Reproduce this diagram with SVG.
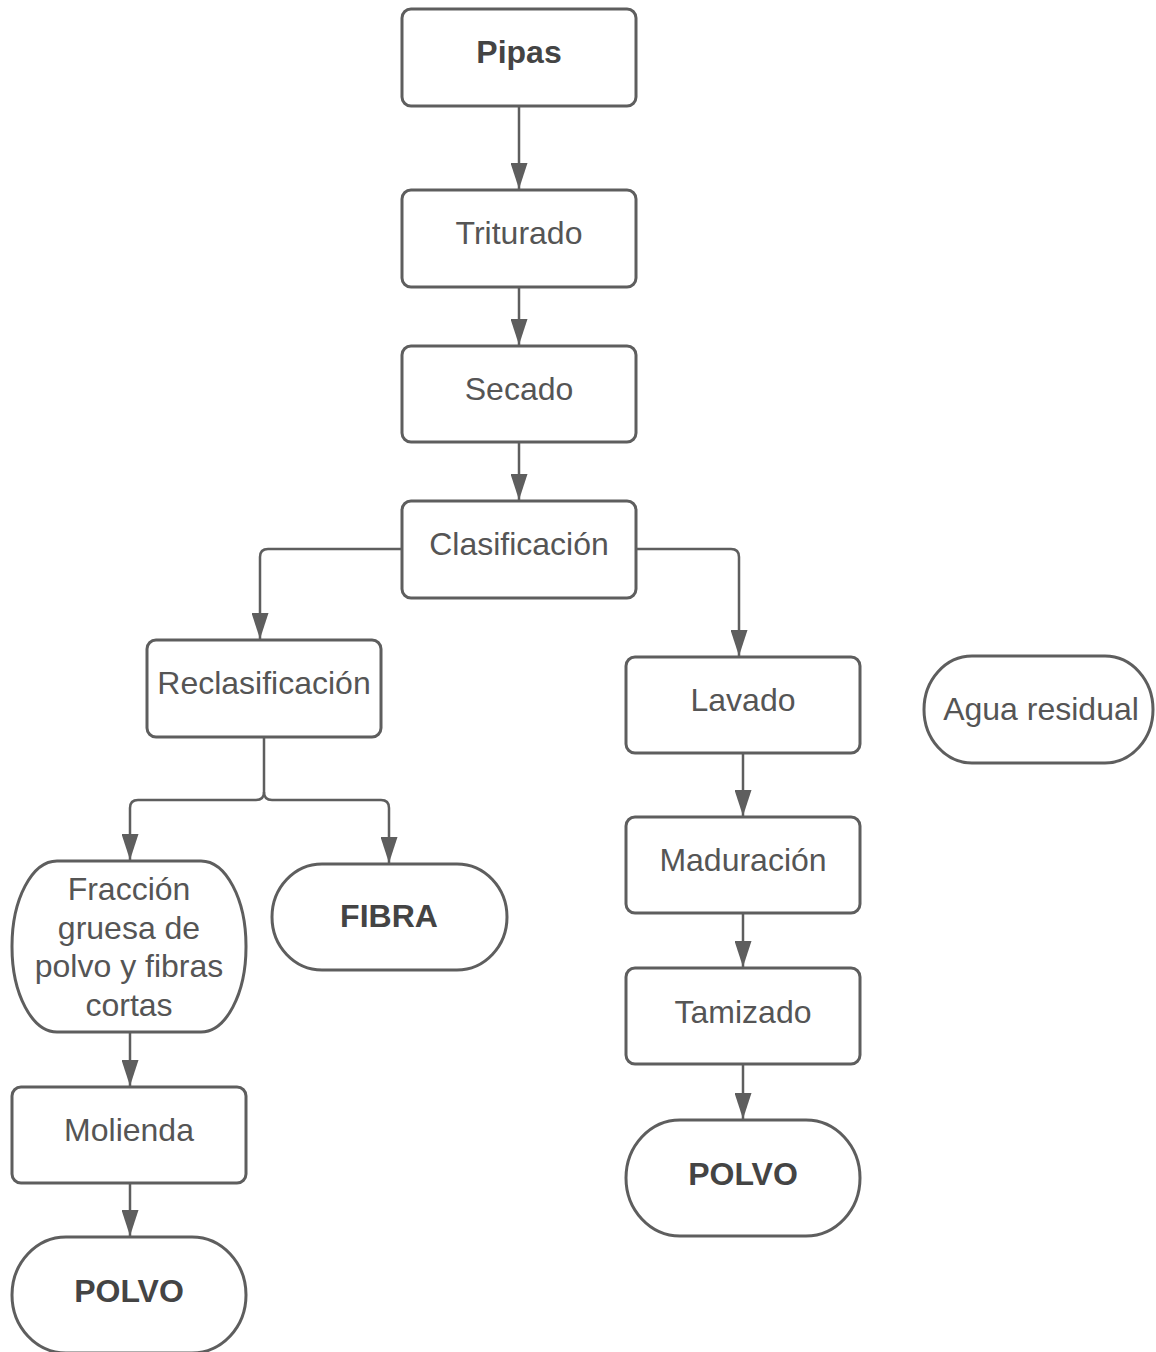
<svg xmlns="http://www.w3.org/2000/svg" width="1156" height="1352" viewBox="0 0 1156 1352">
<defs>
<style>
.n{fill:#ffffff;stroke:#5e5e5e;stroke-width:3}
.t{font-family:"Liberation Sans",Arial,sans-serif;font-size:32px;fill:#555555;text-anchor:middle}
.b{font-weight:bold;fill:#444444}
.c{fill:none;stroke:#5e5e5e;stroke-width:2.5}
</style>
<marker id="ah" markerUnits="userSpaceOnUse" markerWidth="26" markerHeight="17" refX="26" refY="8.5" orient="auto">
<path d="M0,0 L26,8.5 L0,17 Z" fill="#5e5e5e"/>
</marker>
</defs>
<rect width="1156" height="1352" fill="#ffffff"/>
<g id="connectors">
<path class="c" d="M519,106 V189" marker-end="url(#ah)"/>
<path class="c" d="M519,287 V345" marker-end="url(#ah)"/>
<path class="c" d="M519,442 V500" marker-end="url(#ah)"/>
<path class="c" d="M402,549 H268 Q260,549 260,557 V639" marker-end="url(#ah)"/>
<path class="c" d="M636,549 H731 Q739,549 739,557 V656" marker-end="url(#ah)"/>
<path class="c" d="M264,737 V792 Q264,800 256,800 H138 Q130,800 130,808 V860" marker-end="url(#ah)"/>
<path class="c" d="M264,792 Q264,800 272,800 H381 Q389,800 389,808 V863" marker-end="url(#ah)"/>
<path class="c" d="M130,1032 V1086" marker-end="url(#ah)"/>
<path class="c" d="M130,1183 V1236" marker-end="url(#ah)"/>
<path class="c" d="M743,753 V816" marker-end="url(#ah)"/>
<path class="c" d="M743,913 V967" marker-end="url(#ah)"/>
<path class="c" d="M743,1064 V1119" marker-end="url(#ah)"/>
</g>
<g id="pipas"><rect class="n" x="402" y="9" width="234" height="97" rx="9"/><text class="t b" x="519" y="63">Pipas</text></g>
<g id="triturado"><rect class="n" x="402" y="190" width="234" height="97" rx="9"/><text class="t" x="519" y="244">Triturado</text></g>
<g id="secado"><rect class="n" x="402" y="346" width="234" height="96" rx="9"/><text class="t" x="519" y="400">Secado</text></g>
<g id="clasificacion"><rect class="n" x="402" y="501" width="234" height="97" rx="9"/><text class="t" x="519" y="555">Clasificación</text></g>
<g id="reclasificacion"><rect class="n" x="147" y="640" width="234" height="97" rx="9"/><text class="t" x="264" y="694">Reclasificación</text></g>
<g id="lavado"><rect class="n" x="626" y="657" width="234" height="96" rx="9"/><text class="t" x="743" y="711">Lavado</text></g>
<g id="agua-residual"><rect class="n" x="924" y="656" width="229" height="107" rx="48" ry="53.5"/><text class="t" x="1041" y="720">Agua residual</text></g>
<g id="maduracion"><rect class="n" x="626" y="817" width="234" height="96" rx="9"/><text class="t" x="743" y="871">Maduración</text></g>
<g id="tamizado"><rect class="n" x="626" y="968" width="234" height="96" rx="9"/><text class="t" x="743" y="1023">Tamizado</text></g>
<g id="polvo-derecha"><rect class="n" x="626" y="1120" width="234" height="116" rx="54" ry="58"/><text class="t b" x="743" y="1185">POLVO</text></g>
<g id="fraccion"><rect class="n" x="12" y="861" width="234" height="171" rx="45" ry="85"/><text class="t" x="129" y="900">Fracción</text><text class="t" x="129" y="938.5">gruesa de</text><text class="t" x="129" y="977">polvo y fibras</text><text class="t" x="129" y="1015.5">cortas</text></g>
<g id="fibra"><rect class="n" x="272" y="864" width="235" height="106" rx="50" ry="53"/><text class="t b" x="389" y="927">FIBRA</text></g>
<g id="molienda"><rect class="n" x="12" y="1087" width="234" height="96" rx="9"/><text class="t" x="129" y="1141">Molienda</text></g>
<g id="polvo-izquierda"><rect class="n" x="12" y="1237" width="234" height="116" rx="54" ry="58"/><text class="t b" x="129" y="1302">POLVO</text></g>
</svg>
